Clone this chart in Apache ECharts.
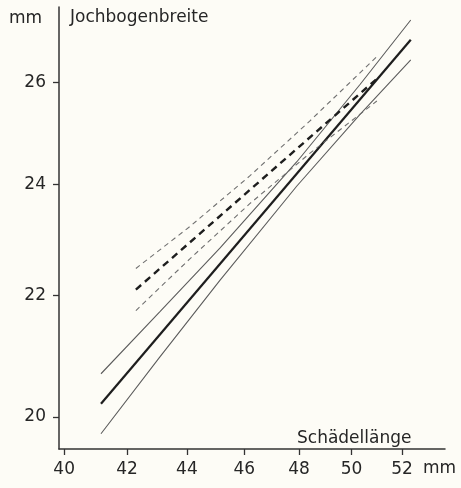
<!DOCTYPE html>
<html><head><meta charset="utf-8">
<script src="https://cdn.jsdelivr.net/npm/echarts@6/dist/echarts.min.js"></script>
<style>html,body{margin:0;padding:0;background:#fdfcf6;} #c{width:461px;height:488px;}</style>
</head><body><div id="c"></div>
<script>
// Tick labels (mm), both axes logarithmic
const xTicks = [40, 42, 44, 46, 48, 50, 52];
const yTicks = [20, 22, 24, 26];
const xRange = [39.84, 53.76];
const yRange = [19.505, 27.58];

// Solid group: regression line + confidence band (Schädellänge, Jochbogenbreite)
const solidMid   = [[41.16, 20.21], [52.35, 26.88]];
const solidUpper = [[41.16, 20.69], [43.08, 21.72], [45.14, 22.83], [47.92, 24.43], [50.32, 25.95], [52.35, 27.30]];
const solidLower = [[41.16, 19.74], [43.08, 20.96], [45.14, 22.26], [47.92, 23.97], [50.32, 25.35], [52.35, 26.46]];

// Dashed group: regression line + confidence band
const dashMid   = [[42.29, 22.10], [50.99, 26.07]];
const dashUpper = [[42.29, 22.47], [44.10, 23.22], [46.20, 24.16], [48.40, 25.22], [50.99, 26.53]];
const dashLower = [[42.29, 21.74], [44.10, 22.64], [46.20, 23.64], [48.40, 24.59], [50.99, 25.62]];

const L = Math.log;
const toLog = arr => arr.map(p => [L(p[0]), L(p[1])]);
const FONT = 'DejaVu Sans';
const FS = 17;
const TXT = '#262626';

function line(data, color, width, type) {
  return {
    type: 'line', data: toLog(data), showSymbol: false, silent: true,
    lineStyle: { color: color, width: width, type: type || 'solid' },
    smooth: false, animation: false
  };
}

const chart = echarts.init(document.getElementById('c'), null, { renderer: 'canvas' });
chart.setOption({
  backgroundColor: '#fdfcf6',
  animation: false,
  grid: { left: 59, right: 16, top: 7, bottom: 39, containLabel: false },
  xAxis: {
    type: 'value', min: L(xRange[0]), max: L(xRange[1]),
    axisLine: { show: true, lineStyle: { color: '#333', width: 1.5 } },
    axisTick: { show: true, length: 6, customValues: xTicks.map(L), lineStyle: { color: '#333', width: 1.3 } },
    axisLabel: { customValues: xTicks.map(L), margin: 12, fontFamily: FONT, fontSize: FS, color: TXT,
      formatter: v => String(Math.round(Math.exp(v))) },
    splitLine: { show: false }
  },
  yAxis: {
    type: 'value', min: L(yRange[0]), max: L(yRange[1]),
    axisLine: { show: true, lineStyle: { color: '#333', width: 1.5 } },
    axisTick: { show: true, length: 6, customValues: yTicks.map(L), lineStyle: { color: '#333', width: 1.3 } },
    axisLabel: { customValues: yTicks.map(L), margin: 13, fontFamily: FONT, fontSize: FS, color: TXT,
      formatter: v => String(Math.round(Math.exp(v))) },
    splitLine: { show: false }
  },
  series: [
    line(solidUpper, '#5c5c5c', 1.1),
    line(solidLower, '#5c5c5c', 1.1),
    line(solidMid, '#1e1e1e', 2.2),
    line(dashUpper, '#707070', 1.1, [5, 4]),
    line(dashLower, '#707070', 1.1, [5, 4]),
    line(dashMid, '#1e1e1e', 2.4, [7, 5])
  ],
  graphic: [
    { type: 'text', left: 9, top: 10, style: { text: 'mm', font: FS + 'px "' + FONT + '"', fill: TXT } },
    { type: 'text', left: 70, top: 9, style: { text: 'Jochbogenbreite', font: FS + 'px "' + FONT + '"', fill: TXT } },
    { type: 'text', left: 297, top: 430, style: { text: 'Schädellänge', font: FS + 'px "' + FONT + '"', fill: TXT } },
    { type: 'text', left: 423, top: 460, style: { text: 'mm', font: FS + 'px "' + FONT + '"', fill: TXT } }
  ]
});
</script>
</body></html>
